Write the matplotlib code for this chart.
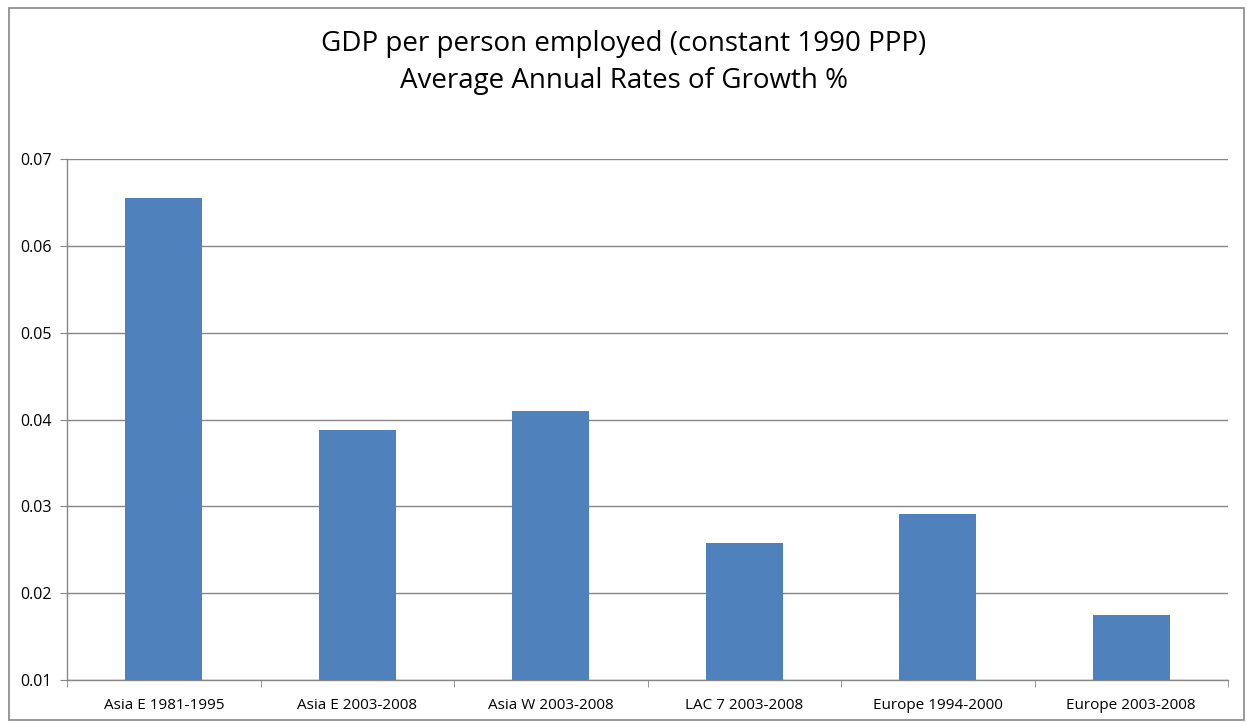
import matplotlib.pyplot as plt
from matplotlib.patches import Rectangle

plt.rcParams['font.family'] = ['Open Sans', 'DejaVu Sans']

# growth rates by region and period
categories = ['Asia E 1981-1995', 'Asia E 2003-2008', 'Asia W 2003-2008',
              'LAC 7 2003-2008', 'Europe 1994-2000', 'Europe 2003-2008']
growth = [0.0655, 0.0388, 0.0410, 0.0258, 0.0291, 0.0175]
yticks = [0.01, 0.02, 0.03, 0.04, 0.05, 0.06, 0.07]

W, H = 1247, 723
fig = plt.figure(figsize=(W / 100, H / 100), dpi=100)
ax = fig.add_axes([67 / W, (H - 680) / H, (1228 - 67) / W, (680 - 159) / H])

x = list(range(len(categories)))
ax.bar(x, growth, width=0.4, color='#4f81bd', zorder=3, bottom=0)

ax.set_xlim(-0.5, len(categories) - 0.5)
ax.set_ylim(0.01, 0.07)
ax.set_yticks(yticks)
ax.set_yticklabels([f'{v:.2f}' for v in yticks], fontsize=11.5)
ax.set_xticks(x)
ax.set_xticklabels(categories, fontsize=11)
ax.tick_params(axis='x', length=0, pad=13)
ax.set_xticks([i - 0.5 for i in range(len(categories) + 1)], minor=True)
ax.tick_params(axis='x', which='minor', length=5, color='#868686')
ax.tick_params(axis='y', length=5, color='#868686', pad=6)
ax.yaxis.grid(True, color='#868686', linewidth=1, zorder=0)

for side in ['top', 'right']:
    ax.spines[side].set_visible(False)
for side in ['left', 'bottom']:
    ax.spines[side].set_color('#868686')
    ax.spines[side].set_linewidth(1)

fig.text(0.5, 1 - 30 / H, 'GDP per person employed (constant 1990 PPP)\nAverage Annual Rates of Growth %',
         ha='center', va='top', fontsize=20, linespacing=1.42)

# chart frame
fig.patches.append(Rectangle((9 / W, 3 / H), (W - 12) / W, (H - 11) / H,
                             transform=fig.transFigure, fill=False,
                             edgecolor='#868686', linewidth=1.2))

fig.savefig('out.png', dpi=100)
